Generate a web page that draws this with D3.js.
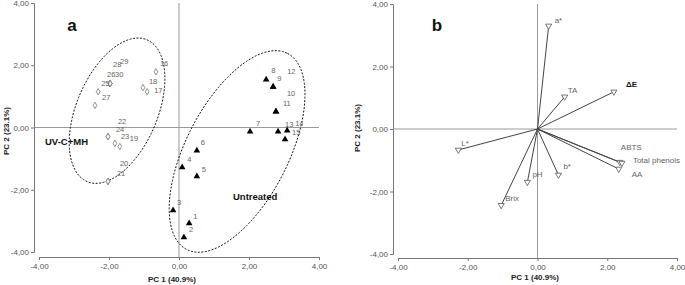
<!DOCTYPE html>
<html>
<head>
<meta charset="utf-8">
<script src="https://cdn.jsdelivr.net/npm/d3@7"></script>
<style>
  body { margin: 0; background: #fff; }
  svg { display: block; font-family: "Liberation Sans", Arial, sans-serif; }
</style>
</head>
<body>
<svg id="chart" width="685" height="285"></svg>
<script>
// ---- data ----
const tickValues = [-4, -2, 0, 2, 4];

// panel a: scores
const untreatedIds = ["1","2","3","4","5","6","7","8","9","10","11","12","13","14","15"];
const untreatedPC1 = [0.29, 0.14, -0.17, 0.09, 0.51, 0.51, 2.03, 2.49, 2.69, 2.77, 2.77, 2.69, 2.83, 3.09, 3.03];
const untreatedPC2 = [-3.08, -3.53, -2.66, -1.28, -1.57, -0.74, -0.13, 1.54, 1.31, 0.51, 0.51, 1.31, -0.13, -0.10, -0.38];

const treatedIds = ["16","17","18","19","20","21","22","23","24","25","26","27","28","29","30"];
const treatedPC1 = [-0.66, -0.91, -1.03, -1.69, -2.03, -2.03, -2.03, -1.83, -2.03, -2.31, -1.97, -2.40, -1.97, -1.97, -1.97];
const treatedPC2 = [1.79, 1.15, 1.28, -0.61, -1.73, -1.73, -0.29, -0.51, -0.29, 1.15, 1.41, 0.71, 1.41, 1.41, 1.41];

// panel b: loadings
const loadingNames = ["a*", "TA", "ΔE", "ABTS", "Total phenols", "AA", "b*", "pH", "Brix", "L*"];
const loadingPC1 = [0.32, 0.78, 2.19, 2.36, 2.42, 2.33, 0.60, -0.29, -1.04, -2.27];
const loadingPC2 = [3.30, 1.03, 1.19, -1.06, -1.09, -1.28, -1.47, -1.70, -2.44, -0.67];

// ---- label nudges (px) ----
const untreatedLabelOff = [[4,-7],[5,-8],[4,-8],[5,-8],[5,-7],[4,-8],[6,-8],[5,-9],[4,-8],[11,-18],[7,-8],[14,-15],[7,-7],[8,-7],[7,-7]];
const treatedLabelOff = [[4,-8],[7,-1],[6,-6],[10,-8],[12,-18],[9,-8],[10,-15],[6,-7],[8,-7],[3,-8],[-3,-9],[7,-8],[3,-19],[10,-22],[5,-9]];
const loadingLabelOff = [[6,-6],[3,-7],[12,-8],[1,-15],[11,-3],[13,5],[5,-9],[5,-8],[4,-7],[3,-7]];

const untreated = untreatedIds.map((id, i) => ({ id, x: untreatedPC1[i], y: untreatedPC2[i], off: untreatedLabelOff[i] }));
const treated = treatedIds.map((id, i) => ({ id, x: treatedPC1[i], y: treatedPC2[i], off: treatedLabelOff[i] }));
const loadings = loadingNames.map((name, i) => ({ name, x: loadingPC1[i], y: loadingPC2[i], off: loadingLabelOff[i] }));

// group ellipses (centre + two conjugate half-axes, in PC units)
const ellipses = [
  { c: [-1.77, 0.54], u: [0.85, 2.28], v: [1.07, -0.50] },
  { c: [1.66, -0.77], u: [1.44, 3.15], v: [1.30, -0.75] }
];

const loc = d3.formatLocale({ decimal: ",", thousands: ".", grouping: [3], currency: ["", ""], minus: "-" });
const fmt = loc.format(".2f");

const svg = d3.select("#chart");

function drawFrame(p) {
  const g = svg.append("g");
  const x = d3.scaleLinear().domain([-4, 4]).range(p.xr);
  const y = d3.scaleLinear().domain([-4, 4]).range(p.yr);

  // zero reference lines
  g.append("line").attr("x1", p.yAxisX).attr("x2", x(4)).attr("y1", y(0)).attr("y2", y(0))
    .attr("stroke", "#9a9a9a").attr("stroke-width", 1);
  g.append("line").attr("x1", x(0)).attr("x2", x(0)).attr("y1", y(4)).attr("y2", p.xAxisY)
    .attr("stroke", "#9a9a9a").attr("stroke-width", 1);

  // axes
  const ya = g.append("g").attr("transform", `translate(${p.yAxisX},0)`)
    .call(d3.axisLeft(y).tickValues(tickValues).tickFormat(fmt).tickSize(3).tickPadding(2));
  const xa = g.append("g").attr("transform", `translate(0,${p.xAxisY})`)
    .call(d3.axisBottom(x).tickValues(tickValues).tickFormat(fmt).tickSize(3).tickPadding(3));
  [ya, xa].forEach(a => {
    a.select(".domain").attr("stroke", "#777");
    a.selectAll(".tick line").attr("stroke", "#777");
    a.selectAll("text").attr("fill", "#555").style("font-size", "8px");
  });

  // axis titles
  g.append("text").attr("x", p.xTitle[0]).attr("y", p.xTitle[1]).attr("text-anchor", "middle")
    .style("font-size", "8px").style("font-weight", "bold").attr("fill", "#222").text("PC 1 (40.9%)");
  g.append("text").attr("transform", `translate(${p.yTitle[0]},${p.yTitle[1]}) rotate(-90)`)
    .attr("text-anchor", "middle").attr("dy", "0.35em")
    .style("font-size", "8px").style("font-weight", "bold").attr("fill", "#222").text("PC 2 (23.1%)");

  // panel letter
  g.append("text").attr("x", p.letterPos[0]).attr("y", p.letterPos[1]).attr("text-anchor", "middle")
    .style("font-size", "17px").style("font-weight", "bold").attr("fill", "#111").text(p.letter);
  return { g, x, y };
}

// ---------- panel a ----------
const A = drawFrame({ xr: [39, 319], yr: [252, 3], yAxisX: 34, xAxisY: 257,
  xTitle: [172, 282], yTitle: [6, 131], letterPos: [72, 31], letter: "a" });

const ellLine = d3.line().curve(d3.curveLinearClosed);
ellipses.forEach(e => {
  const pts = d3.range(0, 2 * Math.PI, Math.PI / 90).map(t => [
    A.x(e.c[0] + e.u[0] * Math.cos(t) + e.v[0] * Math.sin(t)),
    A.y(e.c[1] + e.u[1] * Math.cos(t) + e.v[1] * Math.sin(t))
  ]);
  A.g.append("path").attr("d", ellLine(pts)).attr("fill", "none")
    .attr("stroke", "#111").attr("stroke-width", 1).attr("stroke-dasharray", "2,1.5");
});

A.g.selectAll(".tri").data(untreated).enter().append("path")
  .attr("transform", d => `translate(${A.x(d.x)},${A.y(d.y)})`)
  .attr("d", d3.symbol(d3.symbolTriangle, 19)).attr("fill", "#000");

A.g.selectAll(".dia").data(treated).enter().append("path")
  .attr("transform", d => `translate(${A.x(d.x)},${A.y(d.y)})`)
  .attr("d", d3.symbol(d3.symbolDiamond, 12)).attr("fill", "#fff")
  .attr("stroke", "#777").attr("stroke-width", 0.8);

A.g.selectAll(".lab").data(untreated.concat(treated)).enter().append("text")
  .attr("x", d => A.x(d.x) + d.off[0]).attr("y", d => A.y(d.y) + d.off[1])
  .attr("dy", "0.35em").style("font-size", "7.5px").attr("fill", "#666").text(d => d.id);

A.g.append("text").attr("x", 45).attr("y", 145).style("font-size", "9.5px").style("font-weight", "bold")
  .attr("fill", "#111").text("UV-C+MH");
A.g.append("text").attr("x", 233).attr("y", 200).style("font-size", "9.5px").style("font-weight", "bold")
  .attr("fill", "#111").text("Untreated");

// ---------- panel b ----------
const B = drawFrame({ xr: [398, 677], yr: [254, 4], yAxisX: 393, xAxisY: 258,
  xTitle: [535, 280], yTitle: [357, 128], letterPos: [437, 31], letter: "b" });

B.g.selectAll(".vec").data(loadings).enter().append("line")
  .attr("x1", B.x(0)).attr("y1", B.y(0))
  .attr("x2", d => B.x(d.x)).attr("y2", d => B.y(d.y))
  .attr("stroke", "#444").attr("stroke-width", 1);

B.g.selectAll(".tip").data(loadings).enter().append("path")
  .attr("transform", d => `translate(${B.x(d.x)},${B.y(d.y)}) rotate(180)`)
  .attr("d", d3.symbol(d3.symbolTriangle, 16)).attr("fill", "#fff")
  .attr("stroke", "#555").attr("stroke-width", 0.8);

B.g.selectAll(".vlab").data(loadings).enter().append("text")
  .attr("x", d => B.x(d.x) + d.off[0]).attr("y", d => B.y(d.y) + d.off[1])
  .attr("dy", "0.35em").style("font-size", "8px")
  .style("font-weight", d => d.name === "ΔE" ? "bold" : "normal")
  .attr("fill", d => d.name === "ΔE" ? "#111" : "#666").text(d => d.name);
</script>
</body>
</html>
